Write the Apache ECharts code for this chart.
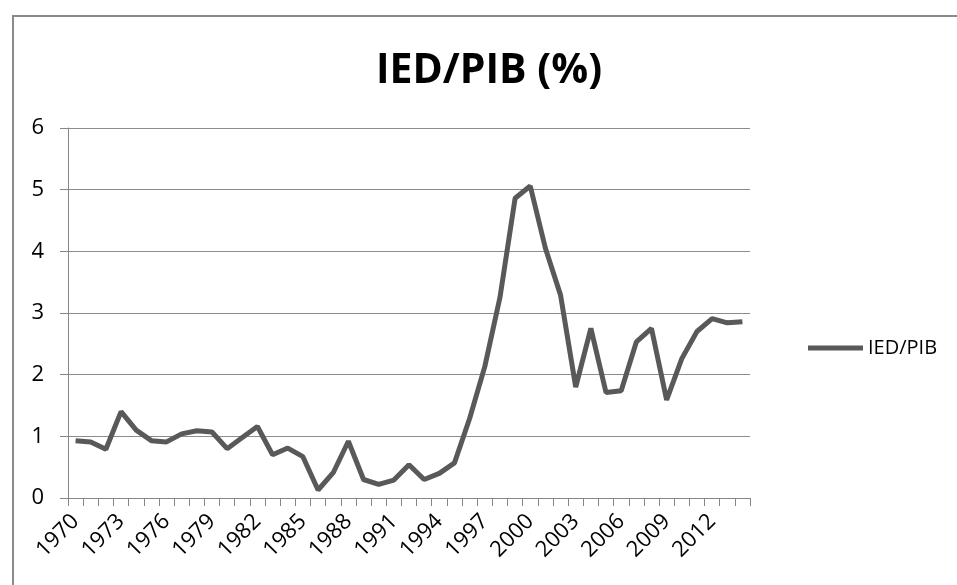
<!DOCTYPE html>
<html>
<head>
<meta charset="utf-8">
<script src="https://cdn.jsdelivr.net/npm/echarts@6/dist/echarts.min.js"></script>
<style>
  html, body { margin: 0; padding: 0; background: #fff; }
  #main { width: 957px; height: 585px; }
</style>
</head>
<body>
<div id="main"></div>
<script>
// years 1970 .. 2014
const years = [];
for (let y = 1970; y <= 2014; y++) years.push(String(y));

// IED/PIB values
const iedPib = [
  0.93, 0.91, 0.79, 1.40, 1.10, 0.93, 0.91, 1.04, 1.09, 1.07,
  0.80, 0.98, 1.16, 0.70, 0.81, 0.67, 0.13, 0.41, 0.92, 0.30,
  0.22, 0.29, 0.54, 0.30, 0.40, 0.57, 1.29, 2.13, 3.25, 4.86,
  5.06, 4.05, 3.29, 1.80, 2.75, 1.71, 1.74, 2.53, 2.75, 1.59,
  2.26, 2.70, 2.91, 2.84, 2.86
];

const yTicks = [0, 1, 2, 3, 4, 5, 6];

const font = '"Open Sans", "DejaVu Sans", sans-serif';

let optionObj = {
  backgroundColor: '#fff',
  animation: false,
  color: ['#595959'],
  title: {
    text: 'IED/PIB (%)',
    left: 484,
    textAlign: 'center',
    top: 46,
    textStyle: { fontFamily: font, fontSize: 41, fontWeight: 'bold', color: '#000' }
  },
  legend: {
    data: [{ name: 'IED/PIB', icon: 'rect' }],
    left: 803,
    top: 333,
    itemWidth: 55,
    itemHeight: 5,
    itemGap: 4,
    textStyle: { fontFamily: font, fontSize: 20, color: '#000' }
  },
  grid: { left: 68, right: 207, top: 128, bottom: 87 },
  xAxis: {
    type: 'category',
    data: years,
    boundaryGap: true,
    axisLine: { lineStyle: { color: '#868686', width: 1 } },
    axisTick: { show: true, length: 8, interval: 0, lineStyle: { color: '#868686' } },
    axisLabel: {
      interval: 2,
      rotate: 45,
      margin: 20,
      fontFamily: font,
      fontSize: 22,
      color: '#000'
    }
  },
  yAxis: {
    type: 'value',
    min: yTicks[0],
    max: yTicks[yTicks.length - 1],
    interval: 1,
    axisLine: { show: true, lineStyle: { color: '#868686', width: 1 } },
    axisTick: { show: true, length: 8, lineStyle: { color: '#868686' } },
    axisLabel: { margin: 24, fontFamily: font, fontSize: 22, color: '#000' },
    splitLine: { lineStyle: { color: '#8c8c8c', width: 1 } }
  },
  graphic: [{
    type: 'rect',
    shape: { x: 13, y: 16, width: 1000, height: 700 },
    style: { fill: null, stroke: '#8a8a8a', lineWidth: 2 },
    z: -1
  }],
  series: [{
    name: 'IED/PIB',
    type: 'line',
    data: iedPib,
    symbol: 'none',
    lineStyle: { width: 5, color: '#595959' }
  }]
};

let myChart = echarts.init(document.getElementById('main'));
myChart.setOption(optionObj);
</script>
</body>
</html>
